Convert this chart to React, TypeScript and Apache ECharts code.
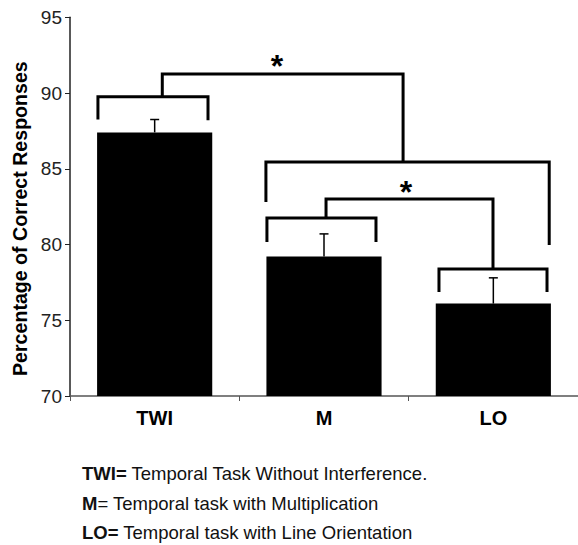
import React, { useEffect, useRef } from "react";
import * as echarts from "echarts";

// ---- data ----
const categories = ["TWI", "M", "LO"];
const means = [87.4, 79.2, 76.1];
const errors = [0.85, 1.5, 1.7];
const yTicks = { min: 70, max: 95, interval: 5 };

// significance brackets as polylines in data units [categoryPosition, percentage]
const bracketTWI = [[-0.335, 88.25], [-0.335, 89.75], [0.315, 89.75], [0.315, 88.2]];
const bracketTop = [[0.045, 89.75], [0.045, 91.25], [1.467, 91.25], [1.467, 85.45]];
const bracketMLO = [[0.657, 82.8], [0.657, 85.45], [2.33, 85.45], [2.33, 79.97]];
const bracketMid = [[1.012, 81.75], [1.012, 83.0], [1.998, 83.0], [1.998, 78.38]];
const bracketM = [[0.663, 80.17], [0.663, 81.75], [1.307, 81.75], [1.307, 80.17]];
const bracketLO = [[1.679, 76.86], [1.679, 78.38], [2.317, 78.38], [2.317, 76.86]];
const brackets = [bracketTWI, bracketTop, bracketMLO, bracketMid, bracketM, bracketLO];

const stars = [[0.722, 92.05], [1.484, 83.73]];

const footnotes = [
  { abbr: "TWI=", eqBold: true, text: " Temporal Task Without Interference." },
  { abbr: "M", eqBold: false, text: " Temporal task with Multiplication" },
  { abbr: "LO=", eqBold: true, text: " Temporal task with Line Orientation" },
];

const FONT = "'Liberation Sans', Arial, Helvetica, sans-serif";

export default function App() {
  const ref = useRef<HTMLDivElement>(null);
  useEffect(() => {
    document.body.style.margin = "0";
    if (!ref.current) return;
    const chart = echarts.init(ref.current, undefined, { renderer: "svg" });
    const footY = [473, 503, 532];
    const option: any = {
      animation: false,
      backgroundColor: "#fff",
      grid: { left: 70, right: 0, top: 17.25, bottom: 149, containLabel: false },
      xAxis: [
        {
          type: "category",
          data: categories,
          boundaryGap: true,
          axisLine: { show: true, onZero: false, lineStyle: { color: "#555", width: 1.5 } },
          axisTick: { show: true, length: 5, alignWithLabel: false, lineStyle: { color: "#555" } },
          axisLabel: { fontFamily: FONT, fontSize: 20, fontWeight: "bold", color: "#000", margin: 12 },
          splitLine: { show: false },
        },
        { type: "value", min: -0.5, max: 2.5, show: false, axisLine: { onZero: false } },
      ],
      yAxis: {
        type: "value",
        min: yTicks.min,
        max: yTicks.max,
        interval: yTicks.interval,
        name: "Percentage of Correct Responses",
        nameLocation: "middle",
        nameGap: 39,
        nameTextStyle: { fontFamily: FONT, fontSize: 19.6, fontWeight: "bold", color: "#000", padding: [0, 24, 0, 0] },
        axisLine: { show: true, onZero: false, lineStyle: { color: "#222", width: 1.5 } },
        axisTick: { show: true, length: 5, inside: false, lineStyle: { color: "#222" } },
        axisLabel: { fontFamily: FONT, fontSize: 19, color: "#222", margin: 8 },
        splitLine: { show: false },
      },
      series: [
        {
          type: "bar",
          data: means,
          barWidth: "68%",
          itemStyle: { color: "#000" },
          xAxisIndex: 0,
          z: 2,
        },
        {
          type: "custom",
          xAxisIndex: 0,
          data: means.map((m, i) => [i, m, m + errors[i]]),
          renderItem: (params: any, api: any) => {
            const x = api.value(0);
            const lo = api.coord([x, api.value(1)]);
            const hi = api.coord([x, api.value(2)]);
            return {
              type: "group",
              children: [
                { type: "line", shape: { x1: lo[0], y1: lo[1], x2: hi[0], y2: hi[1] }, style: { stroke: "#000", lineWidth: 1.5 } },
                { type: "line", shape: { x1: hi[0] - 4.5, y1: hi[1], x2: hi[0] + 4.5, y2: hi[1] }, style: { stroke: "#000", lineWidth: 1.5 } },
              ],
            };
          },
          z: 3,
        },
        {
          type: "custom",
          xAxisIndex: 1,
          data: brackets.map((_, i) => [i]),
          renderItem: (params: any, api: any) => {
            const pts = brackets[params.dataIndex].map((p) => api.coord(p));
            return {
              type: "polyline",
              shape: { points: pts },
              style: { stroke: "#000", lineWidth: 3, fill: null, lineJoin: "miter", lineCap: "butt" },
            };
          },
          clip: false,
          z: 4,
        },
        {
          type: "custom",
          xAxisIndex: 1,
          data: stars,
          renderItem: (params: any, api: any) => {
            const c = api.coord([api.value(0), api.value(1)]);
            return {
              type: "text",
              x: c[0],
              y: c[1] + 4,
              style: {
                text: "*",
                fontFamily: FONT,
                fontSize: 32,
                fontWeight: "bold",
                fill: "#000",
                align: "center",
                verticalAlign: "middle",
              },
            };
          },
          clip: false,
          z: 5,
        },
      ],
      graphic: footnotes.map((f, i) => ({
        type: "text",
        x: 82,
        y: footY[i],
        style: {
          text: f.eqBold ? `{b|${f.abbr}}{r|${f.text}}` : `{b|${f.abbr}}{r|=${f.text}}`,
          rich: {
            b: { fontFamily: FONT, fontSize: 18.5, fontWeight: "bold", fill: "#111" },
            r: { fontFamily: FONT, fontSize: 18.5, fontWeight: "normal", fill: "#111" },
          },
          fontFamily: FONT,
          fontSize: 18.5,
          fill: "#111",
          verticalAlign: "middle",
        },
      })),
    };
    chart.setOption(option);
    return () => chart.dispose();
  }, []);
  return <div ref={ref} style={{ width: 578, height: 545 }} />;
}
